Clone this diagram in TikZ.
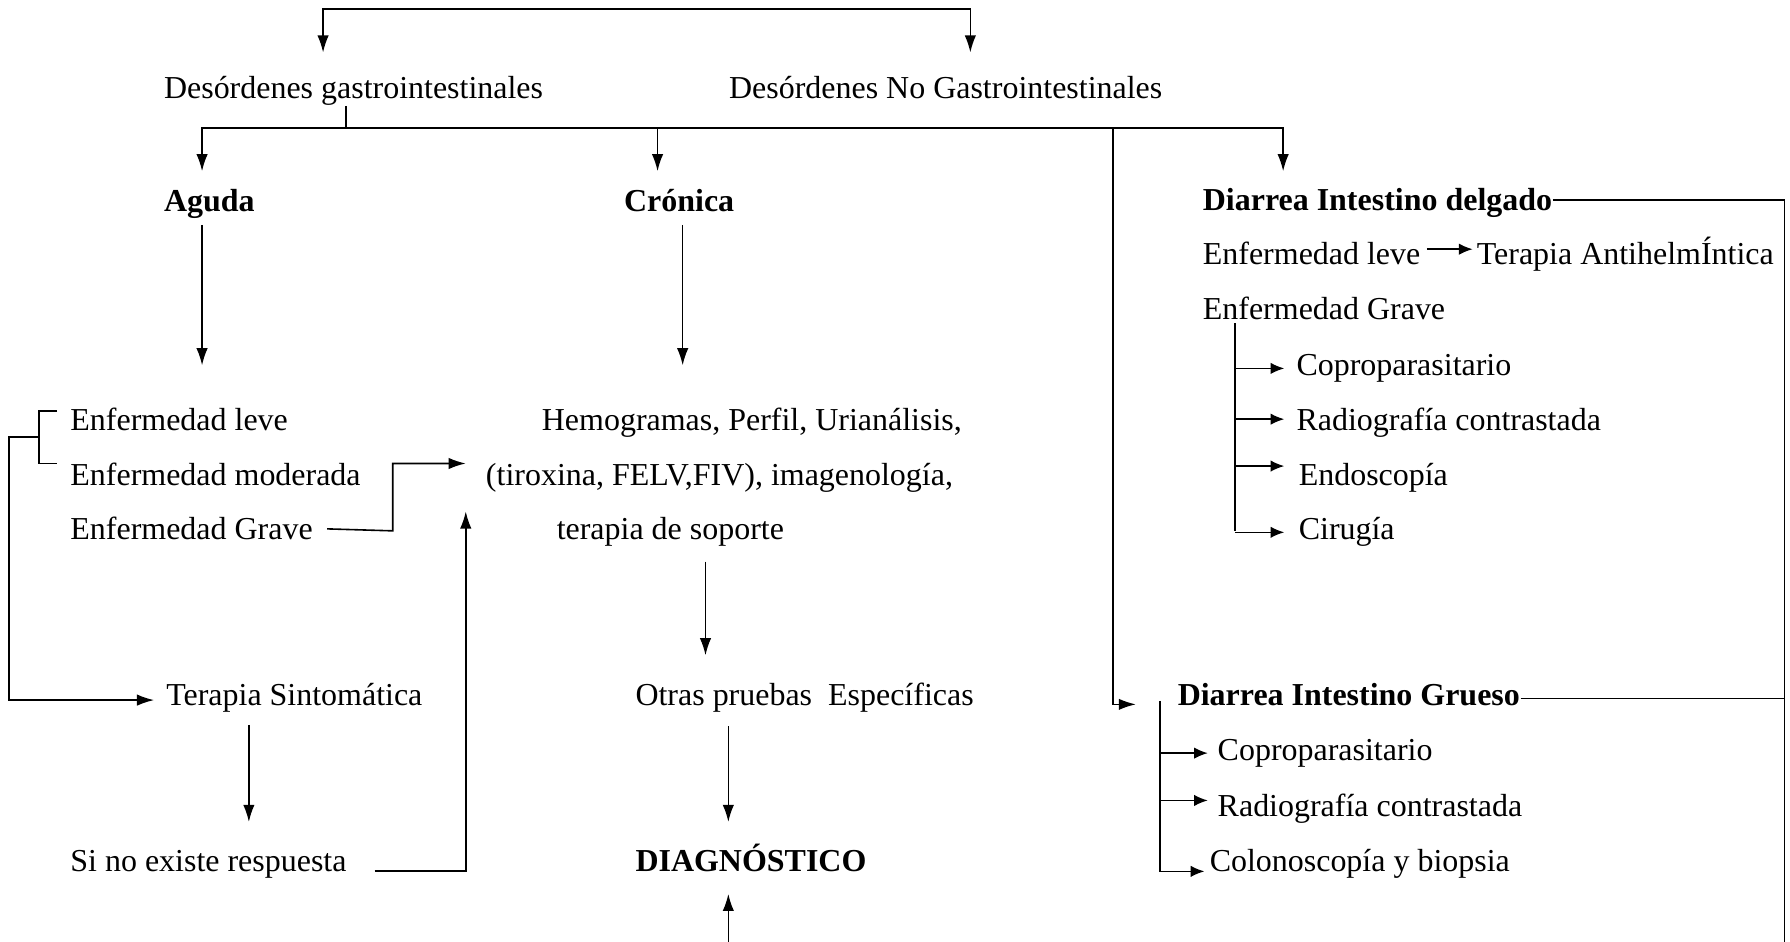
\documentclass[tikz,border=0pt]{standalone}
\usepackage{fontspec}
\setmainfont{Liberation Serif}
\usetikzlibrary{arrows.meta}
\tikzset{
  txt/.style={anchor=base west, inner sep=0pt, font=\fontsize{14}{16}\selectfont},
  hd/.style={txt, font=\fontsize{14}{16}\selectfont\bfseries},
  arr/.style={-{Latex[length=7.5pt,width=5pt]}},
  sarr/.style={-{Latex[length=6pt,width=5pt]}},
}
\begin{document}
\begin{tikzpicture}[x=0.5pt,y=-0.5pt,line width=0.7pt]
\useasboundingbox (0,0) rectangle (1568,825);
% texts
\node[txt] (desg) at (143,86) {Desórdenes gastrointestinales};
\node[txt] (desng) at (638,86) {Desórdenes No Gastrointestinales};
\node[hd] (aguda) at (143,185) {Aguda};
\node[hd] (cronica) at (546,185) {Crónica};
\node[hd] (did) at (1053,184) {Diarrea Intestino delgado};
\node[txt] (leveR) at (1053,232) {Enfermedad leve};
\node[txt] (antih) at (1293,232) {Terapia AntihelmÍntica};
\node[txt] (graveR) at (1053,280) {Enfermedad Grave};
\node[txt] (copR) at (1135,329) {Coproparasitario};
\node[txt] (radR) at (1135,377) {Radiografía contrastada};
\node[txt] (endR) at (1137,425) {Endoscopía};
\node[txt] (cirR) at (1137,473) {Cirugía};
\node[txt] (leveL) at (61,377) {Enfermedad leve};
\node[txt] (modL) at (61,425) {Enfermedad moderada};
\node[txt] (graveL) at (61,473) {Enfermedad Grave};
\node[txt] (hemoA) at (474,377) {Hemogramas, Perfil, Urianálisis,};
\node[txt] (hemoB) at (425,425) {(tiroxina, FELV,FIV), imagenología,};
\node[txt] (hemoC) at (487,473) {terapia de soporte};
\node[txt] (sint) at (145,618) {Terapia Sintomática};
\node[txt] (otras) at (556,618) {Otras pruebas\ \ Específicas};
\node[hd] (dig) at (1031,618) {Diarrea Intestino Grueso};
\node[txt] (copG) at (1066,666) {Coproparasitario};
\node[txt] (radG) at (1066,715) {Radiografía contrastada};
\node[txt] (colG) at (1059,763) {Colonoscopía y biopsia};
\node[txt] (sino) at (61,763) {Si no existe respuesta};
\node[hd] (diag) at (556,763) {DIAGNÓSTICO};
% corner and end points
\coordinate (tm) at (566,8);
\coordinate (t1) at (283,46);
\coordinate (t2) at (850,46);
\coordinate (b0) at (303,112);
\coordinate (bj) at (975,112);
\coordinate (aIn) at (177,150);
\coordinate (cIn) at (576,150);
\coordinate (dIn) at (1124,150);
\coordinate (gIn) at (995,617);
\coordinate (aOut) at (177,197);
\coordinate (aEnd) at (177,320);
\coordinate (cOut) at (598,197);
\coordinate (cEnd) at (598,320);
\coordinate (k1) at (50,360);
\coordinate (k2) at (50,406);
\coordinate (kb) at (34,383);
\coordinate (kl) at (8,383);
\coordinate (gm) at (344,465);
\coordinate (hIn) at (408,406);
\coordinate (upIn) at (408,448);
\coordinate (sOut) at (218,635);
\coordinate (sEnd) at (218,720);
\coordinate (hOut) at (618,492);
\coordinate (hEnd) at (618,574);
\coordinate (oOut) at (638,636);
\coordinate (oEnd) at (638,720);
\coordinate (bot) at (638,825);
\coordinate (dUp) at (638,783);
\coordinate (rEnd) at (1563,825);
\coordinate (gr0) at (1082,283);
\coordinate (gr1) at (1082,465);
\coordinate (gg0) at (1016,614);
% top level
\draw[arr] (tm) -| (t1);
\draw[arr] (tm) -| (t2);
\draw (desg.south -| b0) -- (b0);
\draw[arr] (b0) -| (aIn);
\draw[arr] (b0) -| (cIn);
\draw[arr] (b0) -| (dIn);
\draw[arr] (bj) |- (gIn);
% left column
\draw[arr] (aOut) -- (aEnd);
\draw[arr] (cOut) -- (cEnd);
\draw (k1) -| (kb) |- (k2);
\draw[arr] (kb) -- (kl) |- ([xshift=-5pt,yshift=-1pt]sint.west);
\draw[arr] ([xshift=6pt]graveL.east) -- (gm) |- (hIn);
\draw[arr] ([xshift=12pt]sino.base east) -| (upIn);
\draw[arr] (sOut) -- (sEnd);
\draw[arr] (hOut) -- (hEnd);
\draw[arr] (oOut) -- (oEnd);
\draw[arr] (bot) -- (dUp);
% right column
\draw ([yshift=4.5pt]did.base east) -| (rEnd);
\draw ([yshift=3pt]dig.base east) -- ([yshift=3pt]dig.base east -| rEnd);
\draw[sarr] ([xshift=2.5pt,yshift=2pt]leveR.east) -- ([xshift=-1.5pt,yshift=2pt]leveR.east -| antih.west);
\draw (gr0) -- (gr1);
\foreach \n/\dy/\dx in {copR/0/5, radR/1.5/5, endR/5/6, cirR/0/6}
  \draw[sarr] ([yshift=\dy pt]\n.west -| gr0) -- ([xshift=-\dx pt,yshift=\dy pt]\n.west);
\draw[sarr] (copG.west -| gg0) -- ([xshift=-4pt]copG.west);
\draw[sarr] ([yshift=3.5pt]radG.west -| gg0) -- ([xshift=-4pt,yshift=3.5pt]radG.west);
\draw[sarr] (gg0) |- ([xshift=-2pt,yshift=-3.5pt]colG.west);
\end{tikzpicture}
\end{document}
